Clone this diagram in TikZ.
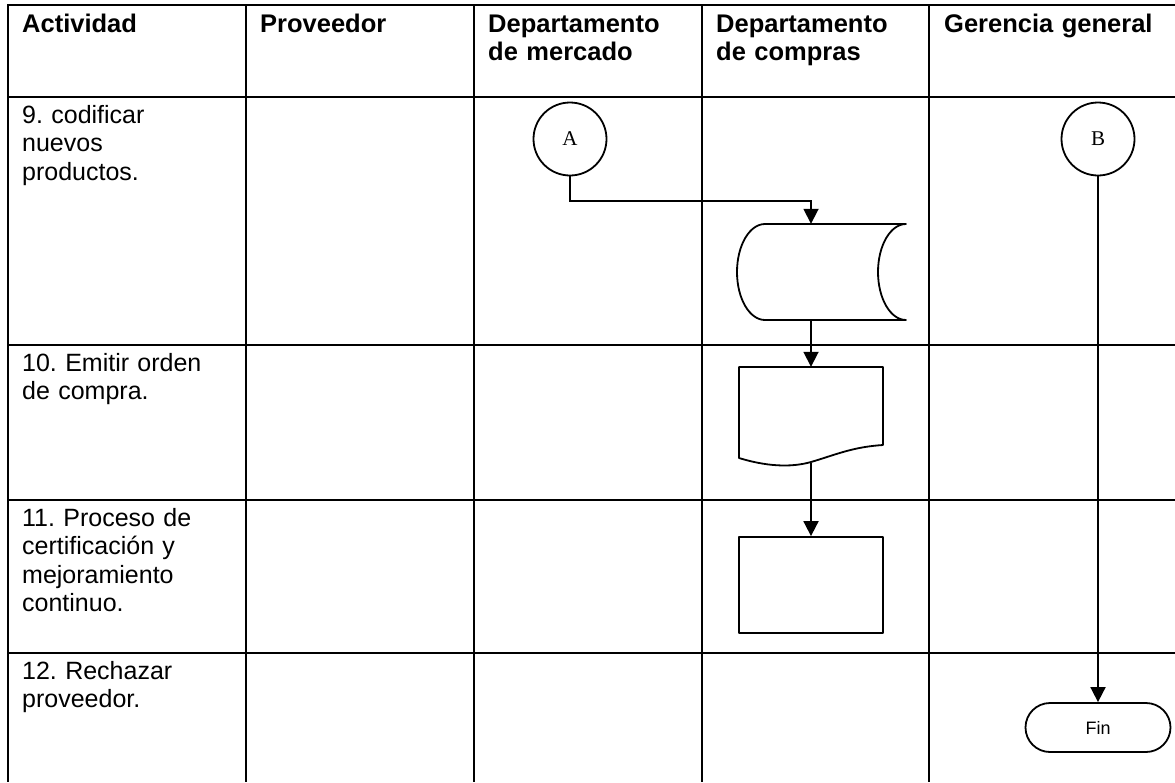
\documentclass[tikz,border=0pt]{standalone}
\usepackage{fontspec}
\setmainfont{Liberation Sans}
\newfontfamily\conserif{Liberation Serif}
\usetikzlibrary{arrows.meta,shapes.misc}
\frenchspacing
\begin{document}
\begin{tikzpicture}[x=1pt,y=-1pt,
  grid/.style={line width=2.6pt},
  outline/.style={line width=1.8pt,line join=round},
  conn/.style={line width=1.8pt,-{Triangle[width=15pt,length=15pt]}},
  head/.style={anchor=base west,inner sep=0pt,text width=210pt,align=left,
    font=\bfseries\fontsize{25.5}{28.5}\selectfont},
  cell/.style={anchor=base west,inner sep=0pt,text width=210pt,align=left,
    font=\fontsize{25}{28.5}\selectfont},
  pageref/.style={circle,draw,outline,minimum size=73pt,inner sep=0pt,
    font=\conserif\fontsize{21}{22}\selectfont},
  frame/.style={inner sep=0pt,minimum width=#1},
  terminal/.style={rounded rectangle,draw,outline,minimum width=145pt,
    minimum height=49pt,inner sep=0pt,font=\fontsize{18}{20}\selectfont}
]
\useasboundingbox (0,0) rectangle (1175,782);

% table grid
\draw[grid] (1175,5) -- (8,5) -- (8,782);
\foreach \y in {97,345,500,653} \draw[grid] (8,\y) -- (1175,\y);
\foreach \x in {246,474,702,929} \draw[grid] (\x,5) -- (\x,782);

% header row
\node[head] (hAct) at (22,32) {Actividad};
\node[head] (hProv) at (260,32) {Proveedor};
\node[head] (hMerc) at (488,32) {Departamento\\de mercado};
\node[head] (hComp) at (716,32) {Departamento\\de compras};
\node[head] (hGer) at (944,32) {Gerencia general};

% activities
\node[cell] (act9) at (22,123) {9. codificar\\nuevos\\productos.};
\node[cell] (act10) at (22,371) {10. Emitir orden\\de compra.};
\node[cell] (act11) at (22,526) {11. Proceso de\\certificación y\\mejoramiento\\continuo.};
\node[cell] (act12) at (22,679) {12. Rechazar\\proveedor.};

% flow symbols
\node[pageref] (A) at (570,139) {A};
\node[pageref] (B) at (1098,139) {B};

\node[frame=146pt,minimum height=96pt] (db) at (811,272) {};
\draw[outline] (765,224) -- (906,224)
  .. controls (890.5,224) and (878,245.5) .. (878,272)
  .. controls (878,298.5) and (890.5,320) .. (906,320)
  -- (765,320)
  .. controls (749.5,320) and (737,298.5) .. (737,272)
  .. controls (737,245.5) and (749.5,224) .. (765,224) -- cycle;

\node[frame=144pt,minimum height=96pt] (doc) at (811,415) {};
\draw[outline] (739,367) -- (883,367) -- (883,445)
  .. controls (852,447) and (835,455) .. (811,462)
  .. controls (790,468) and (765,466) .. (739,458) -- cycle;

\node[frame=144pt,minimum height=96pt,draw,outline] (proc) at (811,585) {};

\node[terminal] (fin) at (1098,727.5) {Fin};

% connectors
\draw[conn] (A.south) -- ++(0,24.5) -| (db.north);
\draw[conn] (db.south) -- (doc.north);
\draw[conn] (doc.south) -- (proc.north);
\draw[conn] (B.south) -- (fin.north);
\end{tikzpicture}
\end{document}
